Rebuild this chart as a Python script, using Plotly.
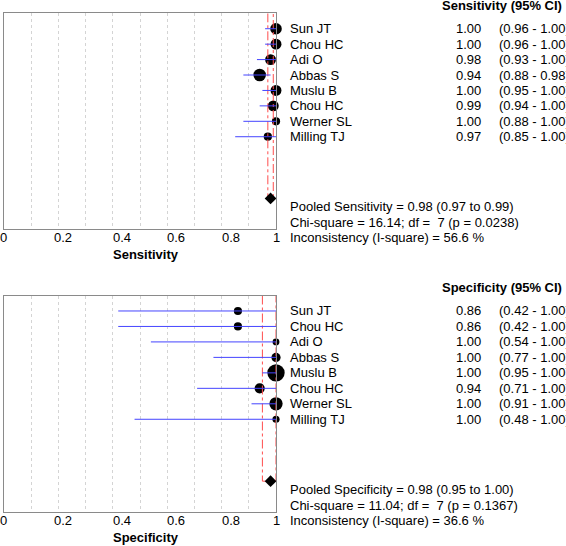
import plotly.graph_objects as go

W, H = 566, 546

studies = ["Sun JT", "Chou HC", "Adi O", "Abbas S", "Muslu B", "Chou HC", "Werner SL", "Milling TJ"]

sens_est = [1.00, 1.00, 0.98, 0.94, 1.00, 0.99, 1.00, 0.97]
sens_lo = [0.96, 0.96, 0.93, 0.88, 0.95, 0.94, 0.88, 0.85]
sens_hi = [1.00, 1.00, 1.00, 0.98, 1.00, 1.00, 1.00, 1.00]
sens_weight = [14.9, 13.2, 13.2, 17.5, 13.2, 13.2, 7.5, 7.5]
sens_pooled = [0.98, 0.97, 0.99]
sens_stats = [16.14, 7, 0.0238, 56.6]

spec_est = [0.86, 0.86, 1.00, 1.00, 1.00, 0.94, 1.00, 1.00]
spec_lo = [0.42, 0.42, 0.54, 0.77, 0.95, 0.71, 0.91, 0.48]
spec_hi = [1.00, 1.00, 1.00, 1.00, 1.00, 1.00, 1.00, 1.00]
spec_weight = [7.4, 7.4, 5.2, 9.4, 33.6, 11.6, 19.6, 5.7]
spec_pooled = [0.98, 0.95, 1.00]
spec_stats = [11.04, 7, 0.1367, 36.6]

tick_vals = [0, 0.2, 0.4, 0.6, 0.8, 1]
tick_text = ["0", "0.2", "0.4", "0.6", "0.8", "1"]
tick_shift = [-1, 5, 9, 9, 9, 0]

FONT = "Liberation Sans, Arial, sans-serif"
X0, X1 = 4, 276
NROWS = 14
POOL_ROW = 12

fig = go.Figure()
annotations = []


def px(x):
    return x / W


def py(y):
    return 1 - y / H


def panel(idx, top, bottom, name, est, lo, hi, weight, pooled, stats):
    xa = "x" if idx == 1 else "x%d" % idx
    ya = "y" if idx == 1 else "y%d" % idx
    rows = list(range(1, len(est) + 1))

    def ry(row):
        return py(top + row * (bottom - top) / NROWS)

    # study point estimates
    fig.add_trace(go.Scatter(
        x=est, y=rows, mode="markers", xaxis=xa, yaxis=ya, cliponaxis=False,
        marker=dict(size=[3.0 * w ** 0.5 for w in weight], color="black",
                    opacity=1, line=dict(width=0)),
        showlegend=False, hoverinfo="skip"))
    # pooled CI bracket
    fig.add_trace(go.Scatter(
        x=[pooled[1], pooled[1], pooled[2], pooled[2]],
        y=[0, POOL_ROW, POOL_ROW, 0], mode="lines", xaxis=xa, yaxis=ya,
        cliponaxis=False,
        line=dict(color="#ff4d4d", width=1, dash="dashdot"),
        showlegend=False, hoverinfo="skip"))
    # CI lines
    cx, cy = [], []
    for r, l, h in zip(rows, lo, hi):
        cx += [l, h, None]
        cy += [r, r, None]
    fig.add_trace(go.Scatter(
        x=cx, y=cy, mode="lines", xaxis=xa, yaxis=ya, cliponaxis=False,
        line=dict(color="#4444ff", width=1),
        showlegend=False, hoverinfo="skip"))
    # pooled diamond
    fig.add_trace(go.Scatter(
        x=[pooled[0]], y=[POOL_ROW], mode="markers", xaxis=xa, yaxis=ya,
        cliponaxis=False,
        marker=dict(symbol="diamond", size=9, color="black", opacity=1,
                    line=dict(width=0)),
        showlegend=False, hoverinfo="skip"))

    dom_x = [px(X0), px(X1)]
    dom_y = [py(bottom), py(top)]
    axis_common = dict(showline=True, linecolor="#8a8a8a", linewidth=1, mirror=True,
                       ticks="", showticklabels=False, zeroline=False)
    fig.update_layout(**{
        ("xaxis" if idx == 1 else "xaxis%d" % idx): dict(
            domain=dom_x, range=[0, 1], anchor=ya, dtick=0.1, tick0=0,
            showgrid=True, gridcolor="#d4d4d4", griddash="dot", gridwidth=1,
            **axis_common),
        ("yaxis" if idx == 1 else "yaxis%d" % idx): dict(
            domain=dom_y, range=[NROWS, 0], anchor=xa, showgrid=False,
            **axis_common),
    })

    f = dict(family=FONT, size=13, color="black")
    fb = dict(family=FONT, size=13, color="black", weight="bold")
    # header
    annotations.append(dict(x=px(564), y=ry(-0.5), xref="paper", yref="paper",
                            text="<b>%s (95%% CI)</b>" % name, showarrow=False,
                            xanchor="right", yanchor="middle", font=fb))
    for r, s, e, l, h in zip(rows, studies, est, lo, hi):
        annotations.append(dict(x=px(288), y=ry(r), xref="paper", yref="paper",
                                text=s, showarrow=False, xanchor="left",
                                yanchor="middle", font=f))
        annotations.append(dict(x=px(483), y=ry(r), xref="paper", yref="paper",
                                text="%.2f" % e, showarrow=False, xanchor="right",
                                yanchor="middle", font=f))
        annotations.append(dict(x=px(497), y=ry(r), xref="paper", yref="paper",
                                text="(%.2f - %.2f)" % (l, h), showarrow=False,
                                xanchor="left", yanchor="middle", font=f))
    lines = [
        "Pooled %s = %.2f (%.2f to %.2f)" % (name, pooled[0], pooled[1], pooled[2]),
        "Chi-square = %.2f; df =  %d (p = %.4f)" % (stats[0], stats[1], stats[2]),
        "Inconsistency (I-square) = %.1f %%" % stats[3],
    ]
    for i, t in enumerate(lines):
        annotations.append(dict(x=px(288), y=ry(12.55 + i), xref="paper", yref="paper",
                                text=t, showarrow=False, xanchor="left",
                                yanchor="middle", font=f))
    # tick labels
    for v, t, s in zip(tick_vals, tick_text, tick_shift):
        annotations.append(dict(x=v, y=ry(14.55), xref=xa, yref="paper", text=t,
                                showarrow=False, xanchor="center", yanchor="middle",
                                xshift=s, font=f))
    # axis title
    annotations.append(dict(x=px(146), y=ry(15.65), xref="paper", yref="paper",
                            text="<b>%s</b>" % name, showarrow=False,
                            xanchor="center", yanchor="middle", font=fb))


panel(1, 13.3, 229.3, "Sensitivity", sens_est, sens_lo, sens_hi, sens_weight,
      sens_pooled, sens_stats)
panel(2, 295.5, 512.1, "Specificity", spec_est, spec_lo, spec_hi, spec_weight,
      spec_pooled, spec_stats)

fig.update_layout(
    width=W, height=H, margin=dict(l=0, r=0, t=0, b=0),
    paper_bgcolor="white", plot_bgcolor="white",
    annotations=annotations, showlegend=False,
    font=dict(family=FONT, size=13, color="black"),
)

fig.write_html("out.html",
               config={"displayModeBar": False},
               post_script="document.body.style.margin='0';"
                           "document.body.style.overflow='hidden';")
